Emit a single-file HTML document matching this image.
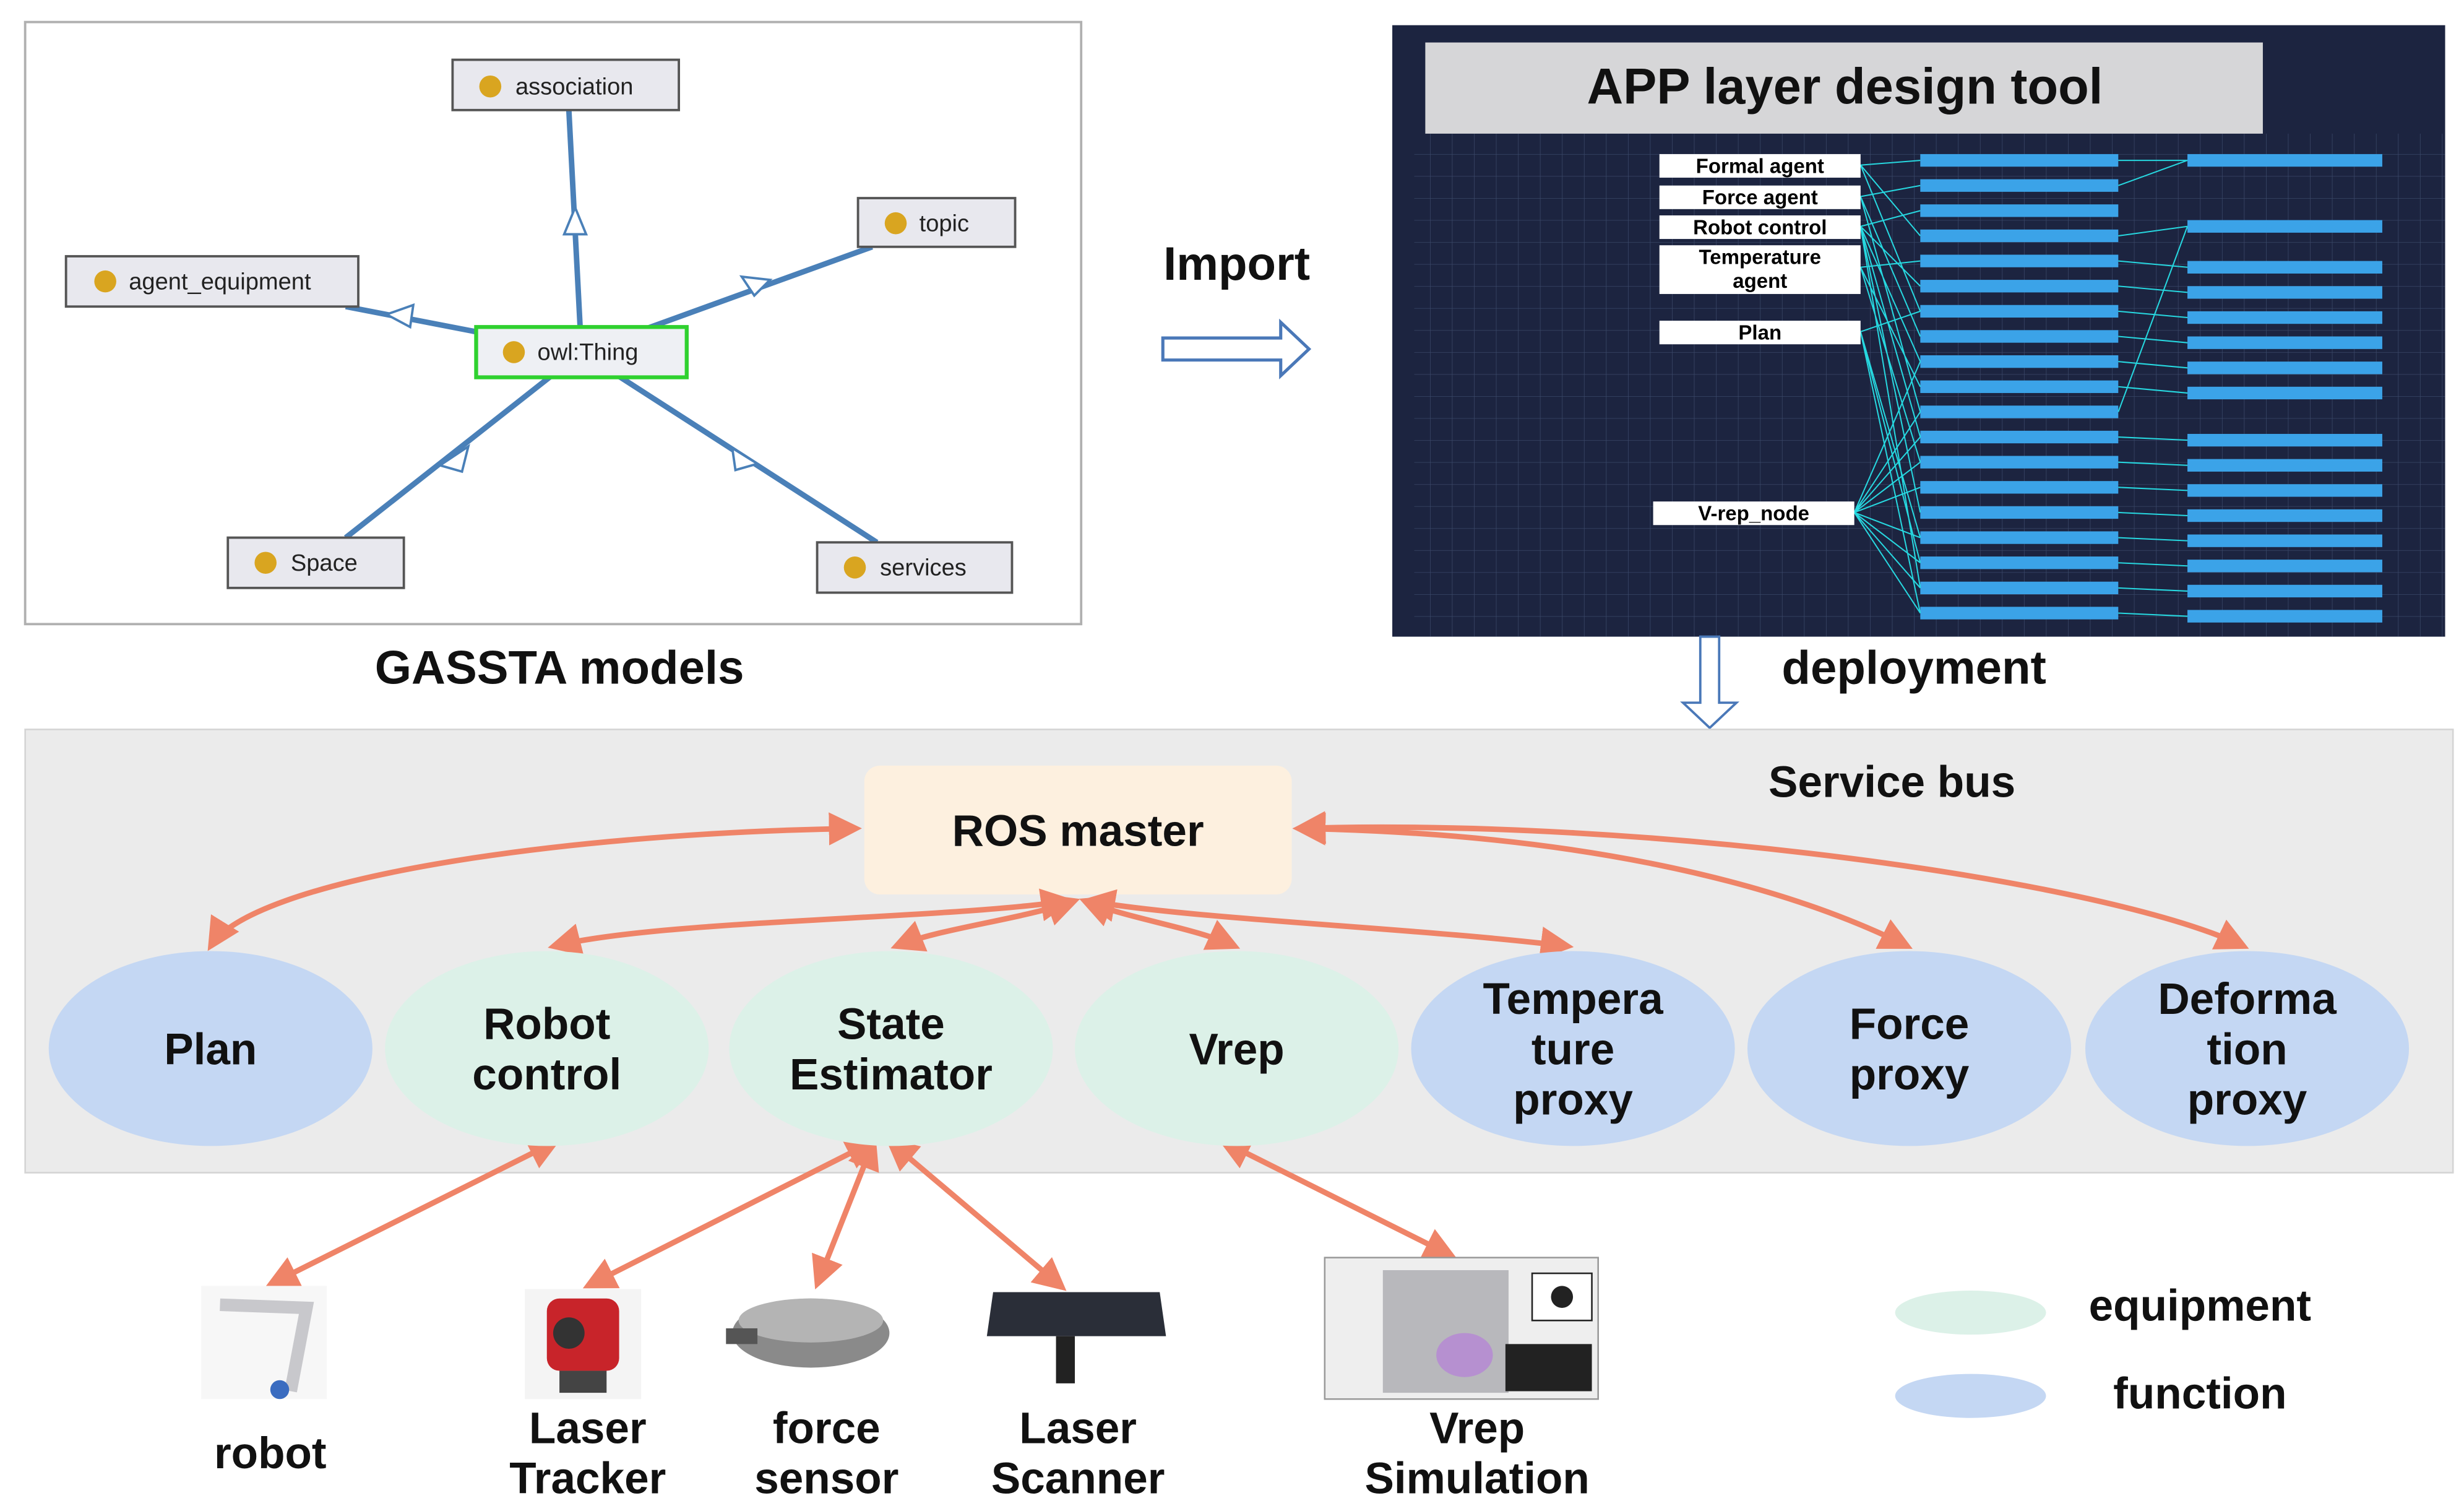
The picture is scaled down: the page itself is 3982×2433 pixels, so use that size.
<!DOCTYPE html>
<html><head><meta charset="utf-8"><style>
html,body{margin:0;padding:0;background:#fff;width:3982px;height:2433px;overflow:hidden}
svg{display:block}
text{font-family:"Liberation Sans",sans-serif}
</style></head><body>
<svg width="3982" height="2433" viewBox="0 0 1568 958" xmlns="http://www.w3.org/2000/svg">
<defs>
<marker id="ah" markerWidth="6" markerHeight="6" refX="5" refY="3" orient="auto" markerUnits="strokeWidth"><path d="M0,0 L6,3 L0,6 z" fill="#ef8468"/></marker>
<marker id="ah2" markerWidth="6" markerHeight="6" refX="1" refY="3" orient="auto" markerUnits="strokeWidth"><path d="M6,0 L0,3 L6,6 z" fill="#ef8468"/></marker>
<pattern id="grid" width="14" height="14" patternUnits="userSpaceOnUse"><path d="M14 0H0V14" fill="none" stroke="#3a4868" stroke-width="0.6"/></pattern>
</defs>
<rect width="1568" height="958" fill="#fff"/>
<!-- top-left ontology -->
<rect x="16" y="14" width="672" height="383" fill="#fff" stroke="#b0b0b0" stroke-width="1.5"/>
<g stroke="#4a80b8" stroke-width="3.5">
<line x1="370" y1="224" x2="362" y2="70"/><line x1="370" y1="224" x2="555" y2="157"/>
<line x1="370" y1="224" x2="220" y2="195"/><line x1="370" y1="224" x2="220" y2="342"/>
<line x1="370" y1="224" x2="558" y2="345"/>
</g>
<g fill="#fff" stroke="#4a80b8" stroke-width="1.5">
<path d="M366,132 l-7,17 h14z"/><path d="M490,178 l-18,-2 l8,12z"/><path d="M246,200 l17,-6 l-2,14z"/><path d="M280,296 l18,-12 l-4,16z"/><path d="M466,285 l16,10 l-14,4z"/>
</g>
<g font-size="15" fill="#222">
<rect x="288" y="38" width="144" height="32" fill="#e8e8ee" stroke="#555" stroke-width="1.5"/><circle cx="312" cy="55" r="7" fill="#d9a520"/><text x="328" y="60">association</text>
<rect x="546" y="126" width="100" height="31" fill="#e8e8ee" stroke="#555" stroke-width="1.5"/><circle cx="570" cy="142" r="7" fill="#d9a520"/><text x="585" y="147">topic</text>
<rect x="42" y="163" width="186" height="32" fill="#e8e8ee" stroke="#555" stroke-width="1.5"/><circle cx="67" cy="179" r="7" fill="#d9a520"/><text x="82" y="184">agent_equipment</text>
<rect x="303" y="208" width="134" height="32" fill="#eef0f4" stroke="#2fd12f" stroke-width="2.5"/><circle cx="327" cy="224" r="7" fill="#d9a520"/><text x="342" y="229">owl:Thing</text>
<rect x="145" y="342" width="112" height="32" fill="#e8e8ee" stroke="#555" stroke-width="1.5"/><circle cx="169" cy="358" r="7" fill="#d9a520"/><text x="185" y="363">Space</text>
<rect x="520" y="345" width="124" height="32" fill="#e8e8ee" stroke="#555" stroke-width="1.5"/><circle cx="544" cy="361" r="7" fill="#d9a520"/><text x="560" y="366">services</text>
</g>
<text x="356" y="435" font-size="30" font-weight="bold" text-anchor="middle" fill="#111">GASSTA models</text>
<text x="787" y="178" font-size="30" font-weight="bold" text-anchor="middle" fill="#111">Import</text>
<path d="M740,215 H815 V205 L833,222 L815,239 V229 H740 Z" fill="#fff" stroke="#4a78b8" stroke-width="2"/>
<!-- right dark panel -->
<rect x="886" y="16" width="670" height="389" fill="#1c2440"/>
<rect x="900" y="85" width="656" height="320" fill="url(#grid)"/>
<rect x="907" y="27" width="533" height="58" fill="#d6d6d8"/>
<text x="1174" y="66" font-size="32" font-weight="bold" text-anchor="middle" fill="#111">APP layer design tool</text>
<g id="bars" fill="#3ba3e8">
<rect x="1222" y="98" width="126" height="8"/><rect x="1222" y="114" width="126" height="8"/><rect x="1222" y="130" width="126" height="8"/><rect x="1222" y="146" width="126" height="8"/><rect x="1222" y="162" width="126" height="8"/><rect x="1222" y="178" width="126" height="8"/><rect x="1222" y="194" width="126" height="8"/><rect x="1222" y="210" width="126" height="8"/><rect x="1222" y="226" width="126" height="8"/><rect x="1222" y="242" width="126" height="8"/><rect x="1222" y="258" width="126" height="8"/><rect x="1222" y="274" width="126" height="8"/><rect x="1222" y="290" width="126" height="8"/><rect x="1222" y="306" width="126" height="8"/><rect x="1222" y="322" width="126" height="8"/><rect x="1222" y="338" width="126" height="8"/><rect x="1222" y="354" width="126" height="8"/><rect x="1222" y="370" width="126" height="8"/><rect x="1222" y="386" width="126" height="8"/>
<rect x="1392" y="98" width="124" height="8"/><rect x="1392" y="140" width="124" height="8"/><rect x="1392" y="166" width="124" height="8"/><rect x="1392" y="182" width="124" height="8"/><rect x="1392" y="198" width="124" height="8"/><rect x="1392" y="214" width="124" height="8"/><rect x="1392" y="230" width="124" height="8"/><rect x="1392" y="246" width="124" height="8"/><rect x="1392" y="276" width="124" height="8"/><rect x="1392" y="292" width="124" height="8"/><rect x="1392" y="308" width="124" height="8"/><rect x="1392" y="324" width="124" height="8"/><rect x="1392" y="340" width="124" height="8"/><rect x="1392" y="356" width="124" height="8"/><rect x="1392" y="372" width="124" height="8"/><rect x="1392" y="388" width="124" height="8"/>
</g>
<g stroke="#27d8e0" stroke-width="0.8" fill="none">
<path d="M1184,105 L1222,102 M1184,105 L1222,150 M1184,105 L1222,198 M1184,125 L1222,118 M1184,125 L1222,214 M1184,125 L1222,262 M1184,144 L1222,134 M1184,144 L1222,182 M1184,144 L1222,230 M1184,144 L1222,278 M1184,144 L1222,326 M1184,144 L1222,374 M1184,170 L1222,166 M1184,170 L1222,246 M1184,170 L1222,294 M1184,211 L1222,198 M1184,211 L1222,342 M1184,211 L1222,390 M1184,211 L1222,358"/>
<path d="M1180,326 L1222,262 M1180,326 L1222,278 M1180,326 L1222,294 M1180,326 L1222,310 M1180,326 L1222,342 M1180,326 L1222,358 M1180,326 L1222,374 M1180,326 L1222,390 M1180,326 L1222,230"/>
<path d="M1348,102 L1392,102 M1348,150 L1392,144 M1348,166 L1392,170 M1348,182 L1392,186 M1348,198 L1392,202 M1348,214 L1392,218 M1348,230 L1392,234 M1348,246 L1392,250 M1348,278 L1392,280 M1348,294 L1392,296 M1348,310 L1392,312 M1348,326 L1392,328 M1348,342 L1392,344 M1348,358 L1392,360 M1348,374 L1392,376 M1348,390 L1392,392 M1348,118 L1392,102 M1348,262 L1392,144"/>
</g>
<g font-size="13" font-weight="bold" fill="#000" text-anchor="middle">
<rect x="1056" y="98" width="128" height="15" fill="#fff"/><text x="1120" y="110">Formal agent</text>
<rect x="1056" y="118" width="128" height="15" fill="#fff"/><text x="1120" y="130">Force agent</text>
<rect x="1056" y="137" width="128" height="15" fill="#fff"/><text x="1120" y="149">Robot control</text>
<rect x="1056" y="156" width="128" height="31" fill="#fff"/><text x="1120" y="168">Temperature</text><text x="1120" y="183">agent</text>
<rect x="1056" y="204" width="128" height="15" fill="#fff"/><text x="1120" y="216">Plan</text>
<rect x="1052" y="319" width="128" height="15" fill="#fff"/><text x="1116" y="331">V-rep_node</text>
</g>
<path d="M1082,405 H1094 V447 H1105 L1088,463 L1071,447 H1082 Z" fill="#fff" stroke="#4a78b8" stroke-width="1.5"/>
<text x="1218" y="435" font-size="30" font-weight="bold" text-anchor="middle" fill="#111">deployment</text>
<!-- service bus -->
<rect x="16" y="464" width="1545" height="282" fill="#ebebeb" stroke="#d4d4d4"/>
<text x="1204" y="507" font-size="28" font-weight="bold" text-anchor="middle" fill="#111">Service bus</text>
<rect x="550" y="487" width="272" height="82" rx="10" fill="#fdf0df"/>
<text x="686" y="538" font-size="28" font-weight="bold" text-anchor="middle" fill="#111">ROS master</text>
<g stroke="#ef8468" stroke-width="3.5" fill="none" marker-end="url(#ah)" marker-start="url(#ah2)">
<path d="M134,602 C160,560 350,530 545,527"/>
<path d="M352,602 C420,585 600,585 680,573"/>
<path d="M570,602 C600,590 650,585 684,573"/>
<path d="M786,602 C760,590 720,585 690,573"/>
<path d="M998,602 C900,590 760,585 692,573"/>
<path d="M1214,602 C1130,560 1000,530 826,527"/>
<path d="M1428,602 C1340,560 1050,520 826,527"/>
<path d="M354,726 L172,817"/>
<path d="M556,726 L374,818"/>
<path d="M556,726 L520,817"/>
<path d="M566,726 L676,819"/>
<path d="M778,726 L924,799"/>
</g>
<g font-size="28" font-weight="bold" text-anchor="middle" fill="#111">
<ellipse cx="134" cy="667" rx="103" ry="62" fill="#c4d7f3"/><text x="134" y="677">Plan</text>
<ellipse cx="348" cy="667" rx="103" ry="62" fill="#dcf1e8"/><text x="348" y="661">Robot</text><text x="348" y="693">control</text>
<ellipse cx="567" cy="667" rx="103" ry="62" fill="#dcf1e8"/><text x="567" y="661">State</text><text x="567" y="693">Estimator</text>
<ellipse cx="787" cy="667" rx="103" ry="62" fill="#dcf1e8"/><text x="787" y="677">Vrep</text>
<ellipse cx="1001" cy="667" rx="103" ry="62" fill="#c4d7f3"/><text x="1001" y="645">Tempera</text><text x="1001" y="677">ture</text><text x="1001" y="709">proxy</text>
<ellipse cx="1215" cy="667" rx="103" ry="62" fill="#c4d7f3"/><text x="1215" y="661">Force</text><text x="1215" y="693">proxy</text>
<ellipse cx="1430" cy="667" rx="103" ry="62" fill="#c4d7f3"/><text x="1430" y="645">Deforma</text><text x="1430" y="677">tion</text><text x="1430" y="709">proxy</text>
</g>
<!-- devices -->
<rect x="128" y="818" width="80" height="72" fill="#f7f7f7"/>
<path d="M140,830 L195,832 L185,885" stroke="#c8c8cc" stroke-width="8" fill="none"/><circle cx="178" cy="884" r="6" fill="#3a6cc0"/>
<rect x="334" y="820" width="74" height="70" fill="#f4f4f4"/>
<rect x="348" y="826" width="46" height="46" rx="8" fill="#c8242a"/><circle cx="362" cy="848" r="10" fill="#333"/><rect x="356" y="872" width="30" height="14" fill="#444"/>
<ellipse cx="516" cy="848" rx="50" ry="22" fill="#8a8a8a"/><ellipse cx="516" cy="840" rx="46" ry="14" fill="#b4b4b4"/><rect x="462" y="845" width="20" height="10" fill="#555"/>
<path d="M632,822 L738,822 L742,850 L628,850 Z" fill="#2a2e38"/><rect x="672" y="850" width="12" height="30" fill="#222"/>
<rect x="843" y="800" width="174" height="90" fill="#eee" stroke="#999"/><rect x="880" y="808" width="80" height="78" fill="#b8b8bc"/><ellipse cx="932" cy="862" rx="18" ry="14" fill="#b690d0"/><rect x="958" y="855" width="55" height="30" fill="#222"/><rect x="975" y="810" width="38" height="30" fill="#fff" stroke="#222"/><circle cx="994" cy="825" r="7" fill="#222"/>
<g font-size="28" font-weight="bold" text-anchor="middle" fill="#111">
<text x="172" y="934">robot</text>
<text x="374" y="918">Laser</text><text x="374" y="950">Tracker</text>
<text x="526" y="918">force</text><text x="526" y="950">sensor</text>
<text x="686" y="918">Laser</text><text x="686" y="950">Scanner</text>
<text x="940" y="918">Vrep</text><text x="940" y="950">Simulation</text>
<text x="1400" y="840">equipment</text>
<text x="1400" y="896">function</text>
</g>
<ellipse cx="1254" cy="835" rx="48" ry="14" fill="#dcf1e8"/>
<ellipse cx="1254" cy="888" rx="48" ry="14" fill="#c4d7f3"/>
</svg>
</body></html>
